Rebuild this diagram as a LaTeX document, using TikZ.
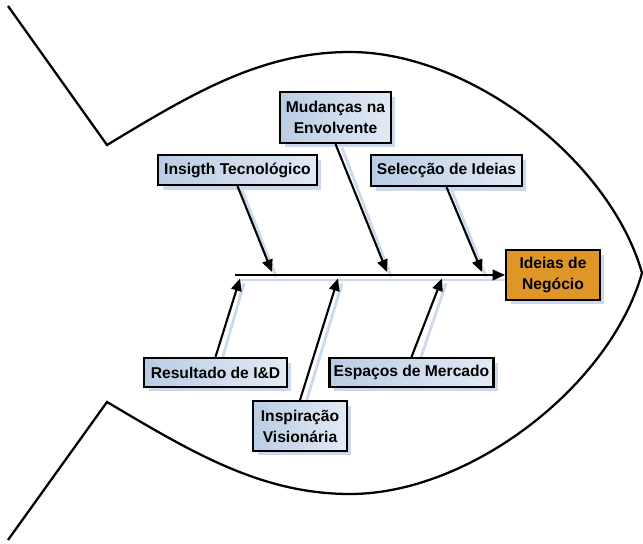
\documentclass[tikz,border=0pt]{standalone}
\usepackage{fontspec}
\setmainfont{Liberation Sans}
\usetikzlibrary{arrows.meta,shadows}
\definecolor{shadowblue}{RGB}{204,217,237}
\definecolor{boxlight}{RGB}{226,234,245}
\definecolor{boxdark}{RGB}{186,204,228}
\definecolor{goalfill}{RGB}{223,150,38}
\begin{document}
\begin{tikzpicture}[x=0.02cm,y=-0.02cm,
  cause/.style={draw=black, line width=1.3pt, left color=boxdark, right color=boxlight,
    align=center, inner sep=1pt, font=\fontsize{8.9}{12}\selectfont\bfseries,
    drop shadow={shadow xshift=2.6pt, shadow yshift=-2.6pt, fill=shadowblue, opacity=1}},
  effect/.style={cause, fill=goalfill, left color=goalfill, right color=goalfill},
  bone/.style={line width=1.2pt, -{Triangle[length=7pt,width=6pt]}},
  boneshade/.style={line width=1.6pt, draw=shadowblue,
    transform canvas={xshift=2.3pt, yshift=-2.8pt}},
  outline/.style={line width=1.3pt, line join=miter}]
\useasboundingbox (0,0) rectangle (643,544);

% fish body and tail
\draw[outline] (8,6) -- (107,145)
  .. controls (190,95) and (260,52) .. (350,52)
  .. controls (470,52) and (610,160) .. (642,273)
  .. controls (610,386) and (470,494) .. (350,494)
  .. controls (260,494) and (190,451) .. (107,402) -- (8,540);

% spine and bone end points
\coordinate (spineL) at (235,275);
\coordinate (tIns)  at (272,272);
\coordinate (tMud)  at (387,272);
\coordinate (tSel)  at (482,272);
\coordinate (tRes)  at (240,278.5);
\coordinate (tInsp) at (338,278.5);
\coordinate (tEsp)  at (442,278.5);
\coordinate (goalW) at (506,275);

% shadows of the bones
\draw[boneshade] (spineL) -- (goalW);
\draw[boneshade] (238,185) -- (tIns);
\draw[boneshade] (338,143) -- (tMud);
\draw[boneshade] (448,186) -- (tSel);
\draw[boneshade] (217,358) -- (tRes);
\draw[boneshade] (301,401) -- (tInsp);
\draw[boneshade] (415,358) -- (tEsp);

% cause boxes
\node[cause, minimum width=62.9pt, minimum height=28.9pt] (mud)  at (335.5,117.5) {Mudanças na\\Envolvente};
\node[cause, minimum width=90.1pt, minimum height=17pt]   (ins)  at (237.5,170)   {Insigth Tecnológico};
\node[cause, minimum width=85.6pt, minimum height=17.6pt] (sel)  at (446.5,170.5) {Selecção de Ideias};
\node[cause, minimum width=81.1pt, minimum height=16.4pt] (res)  at (215.5,372.5) {Resultado de I\&D};
\node[cause, minimum width=93.5pt, minimum height=16.4pt] (esp)  at (411.5,372.5) {Espaços de Mercado};
\node[cause, minimum width=53.3pt, minimum height=28.3pt] (insp) at (300,426)     {Inspiração\\Visionária};
% effect box
\node[effect, minimum width=53.3pt, minimum height=28.3pt] (goal) at (553,275) {Ideias de\\Negócio};

% bones
\draw[bone] (spineL) -- (goal.west);
\draw[bone] (ins.south) -- (tIns);
\draw[bone] (mud.south) -- (tMud);
\draw[bone] (sel.south) -- (tSel);
\draw[bone] (res.north) -- (tRes);
\draw[bone] (insp.north) -- (tInsp);
\draw[bone] (esp.north) -- (tEsp);
\end{tikzpicture}
\end{document}
